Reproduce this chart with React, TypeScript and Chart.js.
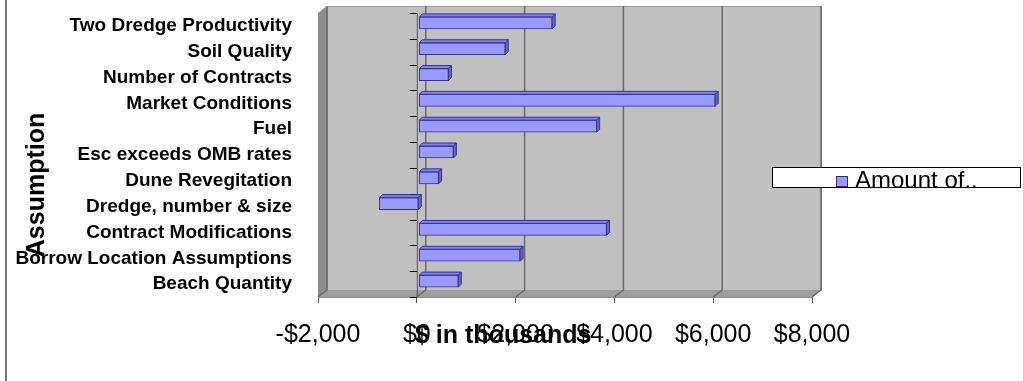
import React, { useEffect, useRef } from "react";
import { Chart, registerables } from "chart.js";

Chart.register(...registerables);

const CATEGORIES = [
  "Two Dredge Productivity",
  "Soil Quality",
  "Number of Contracts",
  "Market Conditions",
  "Fuel",
  "Esc exceeds OMB rates",
  "Dune Revegitation",
  "Dredge, number & size",
  "Contract Modifications",
  "Borrow Location Assumptions",
  "Beach Quantity",
];
const AMOUNTS = [2700, 1750, 600, 6000, 3600, 700, 400, -800, 3800, 2050, 800];
const X_TICKS = [-2000, 0, 2000, 4000, 6000, 8000];
const SERIES_LABEL = "Amount of..";
const X_TITLE = "$ in thousands";
const Y_TITLE = "Assumption";

const FONT = "'Liberation Sans', Arial, sans-serif";
const DX = 9;
const DY = -7;
const BAR_D = 3;

const fmt = (v: number) => (v < 0 ? "-" : "") + "$" + Math.abs(v).toLocaleString("en-US");

const decorPlugin = {
  id: "decor",
  beforeDraw(chart: any) {
    const { ctx, chartArea: a, scales } = chart;
    const x = scales.x;
    ctx.save();
    ctx.fillStyle = "#ffffff";
    ctx.fillRect(0, 0, chart.width, chart.height);
    // back wall
    ctx.fillStyle = "#C0C0C0";
    ctx.fillRect(a.left + DX, a.top + DY, a.right - a.left, a.bottom - a.top);
    ctx.strokeStyle = "#9a9a9a";
    ctx.lineWidth = 1;
    ctx.strokeRect(a.left + DX + 0.5, a.top + DY + 0.5, a.right - a.left, a.bottom - a.top);
    // left wall
    ctx.fillStyle = "#8c8c8c";
    ctx.beginPath();
    ctx.moveTo(a.left, a.top);
    ctx.lineTo(a.left + DX, a.top + DY);
    ctx.lineTo(a.left + DX, a.bottom + DY);
    ctx.lineTo(a.left, a.bottom);
    ctx.closePath();
    ctx.fill();
    // floor
    ctx.fillStyle = "#9e9e9e";
    ctx.beginPath();
    ctx.moveTo(a.left, a.bottom);
    ctx.lineTo(a.left + DX, a.bottom + DY);
    ctx.lineTo(a.right + DX, a.bottom + DY);
    ctx.lineTo(a.right, a.bottom);
    ctx.closePath();
    ctx.fill();
    // grid lines on back wall and floor
    ctx.strokeStyle = "#6a6a6a";
    ctx.lineWidth = 1.5;
    for (const v of X_TICKS) {
      const px = x.getPixelForValue(v);
      ctx.beginPath();
      ctx.moveTo(px + DX, a.top + DY);
      ctx.lineTo(px + DX, a.bottom + DY);
      ctx.lineTo(px, a.bottom);
      ctx.stroke();
    }
    ctx.restore();
  },
  beforeDatasetsDraw(chart: any) {
    const { ctx, chartArea: a, scales } = chart;
    const x = scales.x;
    const y = scales.y;
    const x0 = x.getPixelForValue(0);
    ctx.save();
    ctx.strokeStyle = "#555555";
    ctx.lineWidth = 1;
    ctx.beginPath();
    ctx.moveTo(x0 + 0.5, a.top);
    ctx.lineTo(x0 + 0.5, a.bottom);
    ctx.stroke();
    ctx.strokeStyle = "#000000";
    const n = CATEGORIES.length;
    const step = (y.bottom - y.top) / n;
    for (let i = 0; i <= n; i++) {
      const py = Math.round(y.top + i * step) + 0.5;
      ctx.beginPath();
      ctx.moveTo(x0 - 7, py);
      ctx.lineTo(x0, py);
      ctx.stroke();
    }
    ctx.restore();
    ctx.save();
    ctx.translate(2, -3);
  },
  afterDatasetsDraw(chart: any) {
    const { ctx } = chart;
    const meta = chart.getDatasetMeta(0);
    ctx.lineWidth = 1;
    ctx.strokeStyle = "#333399";
    for (const el of meta.data) {
      const p = el.getProps(["x", "y", "base", "height"], true);
      const left = Math.min(p.x, p.base);
      const right = Math.max(p.x, p.base);
      const top = p.y - p.height / 2;
      const bottom = p.y + p.height / 2;
      ctx.fillStyle = "#8282E0";
      ctx.beginPath();
      ctx.moveTo(left, top);
      ctx.lineTo(left + BAR_D, top - BAR_D);
      ctx.lineTo(right + BAR_D, top - BAR_D);
      ctx.lineTo(right, top);
      ctx.closePath();
      ctx.fill();
      ctx.stroke();
      ctx.fillStyle = "#6666B8";
      ctx.beginPath();
      ctx.moveTo(right, top);
      ctx.lineTo(right + BAR_D, top - BAR_D);
      ctx.lineTo(right + BAR_D, bottom - BAR_D);
      ctx.lineTo(right, bottom);
      ctx.closePath();
      ctx.fill();
      ctx.stroke();
    }
    ctx.restore();
  },
  afterDraw(chart: any) {
    const { ctx } = chart;
    ctx.save();
    // axis titles
    ctx.fillStyle = "#000000";
    ctx.font = `bold 25px ${FONT}`;
    ctx.textAlign = "left";
    ctx.textBaseline = "alphabetic";
    ctx.fillText(X_TITLE, 415, 343);
    ctx.save();
    ctx.translate(44, 185);
    ctx.rotate(-Math.PI / 2);
    ctx.textAlign = "center";
    ctx.fillText(Y_TITLE, 0, 0);
    ctx.restore();
    // legend
    const lx = 772, ly = 167, lw = 249, lh = 21;
    ctx.fillStyle = "#ffffff";
    ctx.fillRect(lx, ly, lw, lh);
    ctx.save();
    ctx.beginPath();
    ctx.rect(lx, ly, lw, lh);
    ctx.clip();
    ctx.fillStyle = "#9999FF";
    ctx.fillRect(836, 176, 12, 11);
    ctx.strokeStyle = "#333366";
    ctx.lineWidth = 1;
    ctx.strokeRect(836.5, 176.5, 11, 10);
    ctx.fillStyle = "#000000";
    ctx.font = `24px ${FONT}`;
    ctx.textAlign = "left";
    ctx.fillText(SERIES_LABEL, 855, 188);
    ctx.restore();
    ctx.strokeStyle = "#000000";
    ctx.lineWidth = 1;
    ctx.strokeRect(lx + 0.5, ly + 0.5, lw - 1, lh - 1);
    // outer frame
    ctx.strokeStyle = "#777777";
    ctx.lineWidth = 2;
    ctx.beginPath();
    ctx.moveTo(6, 0);
    ctx.lineTo(6, chart.height);
    ctx.stroke();
    ctx.strokeStyle = "#c8c8c8";
    ctx.lineWidth = 1;
    ctx.beginPath();
    ctx.moveTo(1023.5, 0);
    ctx.lineTo(1023.5, chart.height);
    ctx.stroke();
    ctx.restore();
  },
};

export default function App() {
  const ref = useRef<HTMLCanvasElement | null>(null);
  useEffect(() => {
    if (!ref.current) return;
    const chart = new Chart(ref.current, {
      type: "bar",
      data: {
        labels: CATEGORIES,
        datasets: [
          {
            label: SERIES_LABEL,
            data: AMOUNTS,
            backgroundColor: "#9999FF",
            borderColor: "#333399",
            borderWidth: 1,
            borderSkipped: false,
            barThickness: 12,
          },
        ],
      },
      options: {
        indexAxis: "y",
        animation: false,
        responsive: false,
        devicePixelRatio: 1,
        layout: { padding: { left: 0, right: 212, top: 13, bottom: 0 } },
        plugins: { legend: { display: false }, tooltip: { enabled: false } },
        scales: {
          x: {
            type: "linear",
            min: -2000,
            max: 8000,
            afterBuildTicks: (s: any) => {
              s.ticks = X_TICKS.map((v) => ({ value: v }));
            },
            afterFit: (s: any) => {
              s.height = 84;
              s.paddingLeft = 0;
              s.paddingRight = 0;
            },
            grid: {
              display: true,
              drawOnChartArea: false,
              drawTicks: true,
              tickLength: 6,
              color: "#555555",
            },
            border: { display: true, color: "#8a8a8a" },
            ticks: {
              color: "#000000",
              font: { family: FONT, size: 25 },
              padding: 17,
              maxRotation: 0,
              autoSkip: false,
              callback: (v: any) => fmt(Number(v)),
            },
          },
          y: {
            type: "category",
            afterFit: (s: any) => {
              s.width = 318;
              s.paddingTop = 0;
              s.paddingBottom = 0;
            },
            grid: { display: false },
            border: { display: false },
            ticks: {
              color: "#000000",
              font: { family: FONT, size: 19, weight: "bold" },
              padding: 18,
              autoSkip: false,
            },
          },
        },
      },
      plugins: [decorPlugin],
    });
    return () => chart.destroy();
  }, []);
  return (
    <div style={{ position: "fixed", left: 0, top: 0, width: 1024, height: 381, background: "#fff" }}>
      <canvas ref={ref} width={1024} height={381} />
    </div>
  );
}
